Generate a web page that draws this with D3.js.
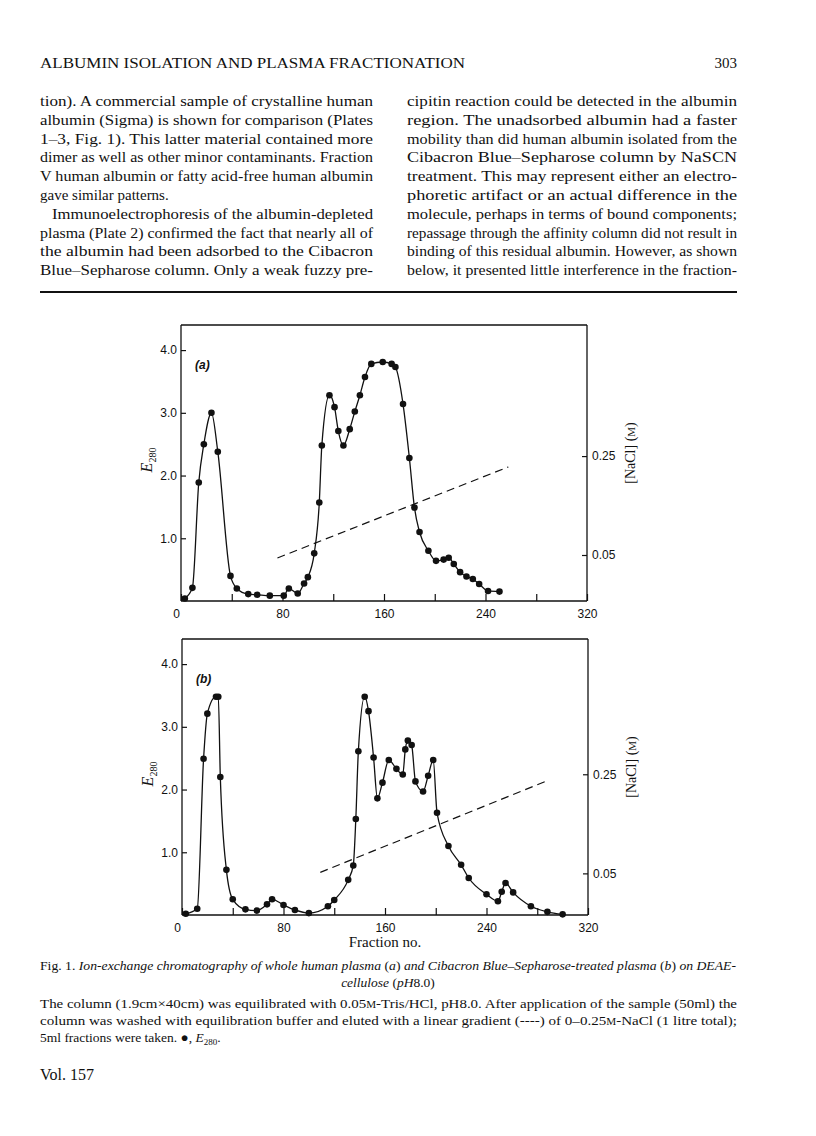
<!DOCTYPE html>
<html><head><meta charset="utf-8">
<script src="https://cdn.jsdelivr.net/npm/d3@7"></script>
<style>body{margin:0;background:#fff}</style>
</head><body>
<svg id="page" width="816" height="1136" xmlns="http://www.w3.org/2000/svg"></svg>
<script>
// ---------- DATA ----------
const fracA = [3,9,14,18,24,29,39,44,53,60,70,81,85,92,97,100,105,109,111,117,121,124,128,133,137,141,145,150,159,166,169,175,180,184,188,195,201,207,211,215,220,225,230,235,242,251];
const e280A = [0.04,0.21,1.89,2.50,3.00,2.38,0.40,0.20,0.11,0.10,0.085,0.085,0.20,0.12,0.28,0.38,0.76,1.57,2.48,3.28,3.09,2.71,2.48,2.74,3.02,3.28,3.57,3.78,3.81,3.78,3.73,3.14,2.28,1.49,1.10,0.80,0.64,0.66,0.69,0.59,0.46,0.39,0.35,0.27,0.16,0.15];
const fracB = [3,12,17,20,26.8,28.6,30.2,35,40,50,59,67,71,80,89,100,115,120,131,135,137,139,144,147,151,154,158,163,169,174,176,178,181,184,190,194,198,201,210,220,226,240,249,252,255,261,275,288,300];
const e280B = [0.02,0.10,2.49,3.21,3.48,3.48,2.20,0.72,0.25,0.09,0.07,0.17,0.25,0.16,0.08,0.03,0.14,0.24,0.56,0.79,1.53,2.61,3.48,3.25,2.51,1.86,2.11,2.47,2.33,2.24,2.64,2.78,2.71,2.13,1.97,2.22,2.47,1.63,1.10,0.80,0.59,0.33,0.22,0.37,0.51,0.36,0.14,0.05,0.01];
const gradFracA = [76, 258];
const gradNaClA = [0.044, 0.228];
const gradFracB = [109, 287];
const gradNaClB = [0.052, 0.236];
const xTicks = [0,40,80,120,160,200,240,280,320];
const xTickLabels = ["0","","80","","160","","240","","320"];
const yTicks = [1,2,3,4];
const yTickLabels = ["1.0","2.0","3.0","4.0"];
const naclTicks = [0.05, 0.25];
const naclTickLabels = ["0.05","0.25"];
const naclDomainA = [-0.043, 0.515];
const naclDomainB = [-0.034, 0.523];

const header = "ALBUMIN ISOLATION AND PLASMA FRACTIONATION";
const pageNo = "303";
const leftCol = [
 "tion). A commercial sample of crystalline human",
 "albumin (Sigma) is shown for comparison (Plates",
 "1–3, Fig. 1). This latter material contained more",
 "dimer as well as other minor contaminants. Fraction",
 "V human albumin or fatty acid-free human albumin",
 "gave similar patterns.",
 "Immunoelectrophoresis of the albumin-depleted",
 "plasma (Plate 2) confirmed the fact that nearly all of",
 "the albumin had been adsorbed to the Cibacron",
 "Blue–Sepharose column. Only a weak fuzzy pre-"
];
const rightCol = [
 "cipitin reaction could be detected in the albumin",
 "region. The unadsorbed albumin had a faster",
 "mobility than did human albumin isolated from the",
 "Cibacron Blue–Sepharose column by NaSCN",
 "treatment. This may represent either an electro-",
 "phoretic artifact or an actual difference in the",
 "molecule, perhaps in terms of bound components;",
 "repassage through the affinity column did not result in",
 "binding of this residual albumin. However, as shown",
 "below, it presented little interference in the fraction-"
];

// ---------- PAGE ----------
const svg = d3.select("#page");
const serif = "'Liberation Serif','DejaVu Serif',serif";
const sans = "'Liberation Sans','DejaVu Sans',sans-serif";

svg.append("text").attr("x",40).attr("y",68).attr("font-family",serif).attr("font-size",15)
  .attr("textLength",425).attr("lengthAdjust","spacingAndGlyphs").attr("fill","#111").text(header);
svg.append("text").attr("x",737).attr("y",68).attr("text-anchor","end").attr("font-family",serif)
  .attr("font-size",15).attr("fill","#111").text(pageNo);

function column(lines, x0, w, noJust, indents){
  lines.forEach((s,i)=>{
    const ind = indents.includes(i) ? 12 : 0;
    const t = svg.append("text").attr("x",x0+ind).attr("y",106+i*18.8)
      .attr("font-family",serif).attr("font-size",15).attr("fill","#111").text(s);
    if(!noJust.includes(i)) t.attr("textLength",w-ind).attr("lengthAdjust","spacingAndGlyphs");
  });
}
column(leftCol, 40, 333, [5], [6]);
column(rightCol, 407, 330, [], []);

svg.append("line").attr("x1",40).attr("x2",737).attr("y1",292).attr("y2",292)
  .attr("stroke","#111").attr("stroke-width",2);

// ---------- CHARTS ----------
function chart(left, top, fr, ev, gx, gm, ndom, label){
  const W = 406, H = 276;
  const g = svg.append("g").attr("transform",`translate(${left},${top})`);
  const x = d3.scaleLinear().domain([0,320]).range([0,W]);
  const y = d3.scaleLinear().domain([0,4.4]).range([H,0]);
  const yr = d3.scaleLinear().domain(ndom).range([H,0]);

  const ax = g.append("g").attr("transform",`translate(0,${H})`)
    .call(d3.axisBottom(x).tickValues(xTicks).tickSize(-7).tickSizeOuter(0).tickPadding(8)
      .tickFormat((d,i)=>xTickLabels[i]));
  const ay = g.append("g").call(d3.axisLeft(y).tickValues(yTicks).tickSize(-5).tickSizeOuter(0).tickPadding(4)
      .tickFormat((d,i)=>yTickLabels[i]));
  const ar = g.append("g").attr("transform",`translate(${W},0)`)
    .call(d3.axisRight(yr).tickValues(naclTicks).tickSize(-5).tickSizeOuter(0).tickPadding(5)
      .tickFormat((d,i)=>naclTickLabels[i]));
  [ax,ay,ar].forEach(a=>{
    a.selectAll("path").attr("stroke","#111").attr("stroke-width",1.3);
    a.selectAll("line").attr("stroke","#111").attr("stroke-width",1.2);
    a.selectAll("text").attr("font-family",sans).attr("font-size",12).attr("fill","#111");
  });
  ar.select(".domain").attr("d",`M0,0V${H}`);
  ay.select(".domain").attr("d",`M0,0V${H}`);
  ax.select(".domain").attr("d",`M0,0H${W}`);
  ax.selectAll(".tick text").filter(d=>d===0).attr("dx",-5);
  g.append("line").attr("x1",0).attr("x2",W).attr("y1",0).attr("y2",0).attr("stroke","#111").attr("stroke-width",1.3);

  // gradient (dashed)
  const gd = gx.map((v,i)=>[v,gm[i]]);
  g.append("path").attr("d", d3.line().x(d=>x(d[0])).y(d=>yr(d[1]))(gd))
    .attr("fill","none").attr("stroke","#111").attr("stroke-width",1.2).attr("stroke-dasharray","8,5");

  const pts = fr.map((v,i)=>[v,ev[i]]);
  g.append("path").attr("d", d3.line().x(d=>x(d[0])).y(d=>y(d[1])).curve(d3.curveMonotoneX)(pts))
    .attr("fill","none").attr("stroke","#111").attr("stroke-width",1.3);
  g.selectAll("circle.pt").data(pts).join("circle").attr("class","pt")
    .attr("cx",d=>x(d[0])).attr("cy",d=>y(d[1])).attr("r",3.3).attr("fill","#111");

  g.append("text").attr("x",14).attr("y",44).attr("font-family",sans).attr("font-style","italic")
    .attr("font-weight","bold").attr("font-size",12).attr("fill","#111").text(label);

  // left axis title E280
  const e = g.append("text").attr("transform",`translate(-29,${H/2-3}) rotate(-90)`)
    .attr("text-anchor","middle").attr("font-family",serif).attr("font-size",16).attr("fill","#111");
  e.append("tspan").attr("font-style","italic").text("E");
  e.append("tspan").attr("font-size",10).attr("dy",4).text("280");
  // right axis title
  const r = g.append("text").attr("transform",`translate(${W+48},${H/2-10}) rotate(-90)`)
    .attr("text-anchor","middle").attr("font-family",serif).attr("font-size",14).attr("fill","#111");
  r.append("tspan").text("[NaCl] (");
  r.append("tspan").attr("font-size",11).text("M");
  r.append("tspan").text(")");
  return g;
}
chart(181, 325, fracA, e280A, gradFracA, gradNaClA, naclDomainA, "(a)");
chart(182, 639, fracB, e280B, gradFracB, gradNaClB, naclDomainB, "(b)");

svg.append("text").attr("x",385).attr("y",947).attr("text-anchor","middle").attr("font-family",serif)
  .attr("font-size",15).attr("fill","#111").text("Fraction no.");

// ---------- CAPTION ----------
function mixed(x, y, parts, opts){
  const t = svg.append("text").attr("x",x).attr("y",y).attr("font-family",serif)
    .attr("font-size",opts.size||13.5).attr("fill","#111");
  if(opts.anchor) t.attr("text-anchor",opts.anchor);
  if(opts.w) t.attr("textLength",opts.w).attr("lengthAdjust","spacingAndGlyphs");
  parts.forEach(p=>{
    const s = t.append("tspan").text(p[0]);
    if(p[1]==="i") s.attr("font-style","italic");
    if(p[1]==="sc") s.attr("font-size",10);
    if(p[1]==="sub") s.attr("font-size",9).attr("dy",3);
    if(p[2]) s.attr("dy",p[2]);
  });
  return t;
}
mixed(40, 970, [["Fig. 1. ",""],["Ion-exchange chromatography of whole human plasma ","i"],["(","" ],["a","i"],[") ",""],
  ["and Cibacron Blue–Sepharose-treated plasma ","i"],["(",""],["b","i"],[") ",""],["on DEAE-","i"]], {w:696, size:13.5});
mixed(388, 987, [["cellulose ","i"],["(",""],["pH","i"],["8.0)",""]], {anchor:"middle", size:13.5});
mixed(40, 1008, [["The column (1.9cm×40cm) was equilibrated with 0.05",""],["M","sc"],["-Tris/HCl, pH8.0. After application of the sample (50ml) the",""]], {w:697});
mixed(40, 1025, [["column was washed with equilibration buffer and eluted with a linear gradient (----) of 0–0.25",""],["M","sc"],["-NaCl (1 litre total);",""]], {w:697});
mixed(40, 1042, [["5ml fractions were taken. ●, ",""],["E","i"],["280","sub"],[".","",-3]], {});
svg.append("text").attr("x",40).attr("y",1080).attr("font-family",serif).attr("font-size",16)
  .attr("fill","#111").text("Vol. 157");
</script>
</body></html>
